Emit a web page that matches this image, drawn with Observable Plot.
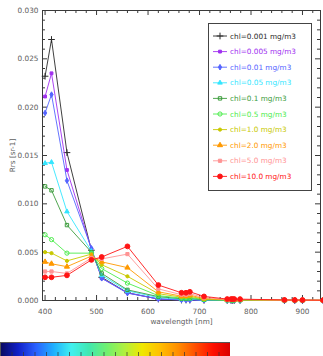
<!DOCTYPE html>
<html><head><meta charset="utf-8">
<script src="https://cdn.jsdelivr.net/npm/d3@7"></script>
<script src="https://cdn.jsdelivr.net/npm/@observablehq/plot@0.6"></script>
<style>
html,body{margin:0;padding:0;background:#fff;overflow:hidden}
#wrap{position:relative;width:323px;height:356px;font-family:"DejaVu Sans",sans-serif}
#main{position:absolute;left:0;top:0}
#cbar{position:absolute;left:0;top:342px}
#leg{position:absolute;left:0;top:0;pointer-events:none}
</style></head><body>
<div id="wrap"><div id="main"></div><div id="cbar"></div><svg id="leg" width="323" height="356"></svg></div>
<script>
// ---- data ----
const wavelengths = [400, 412.5, 442.5, 490, 510, 560, 620, 665, 673.75, 681.25, 708.75, 753.75, 761.25, 764.375, 767.5, 778.75, 865, 885, 900, 940];
const chlLabels = ["chl=0.001 mg/m3","chl=0.005 mg/m3","chl=0.01 mg/m3","chl=0.05 mg/m3","chl=0.1 mg/m3","chl=0.5 mg/m3","chl=1.0 mg/m3","chl=2.0 mg/m3","chl=5.0 mg/m3","chl=10.0 mg/m3"];
const rrs_chl0001 = [0.0232,0.0270,0.0153,0.0052,0.0024,0.0008,0.00015,0.00005,0.00005,0.00004,0.00002,0.00001,0.00001,0.00001,0.00001,0.00001,0,0,0,0];
const rrs_chl0005 = [0.0211,0.0235,0.0135,0.0053,0.0023,0.0008,0.00015,0.00006,0.00006,0.00006,0.00002,0.00001,0.00001,0.00001,0.00001,0.00001,0,0,0,0];
const rrs_chl001  = [0.0194,0.0213,0.0124,0.0054,0.0023,0.00076,0.00016,0.00006,0.00006,0.00006,0.00003,0.00001,0.00001,0.00001,0.00001,0.00001,0,0,0,0];
const rrs_chl005  = [0.0142,0.0143,0.0092,0.0051,0.0026,0.0010,0.0003,0.00012,0.00012,0.00013,0.00004,0.00002,0.00002,0.00002,0.00002,0.00002,0.00001,0.00001,0.00001,0.00001];
const rrs_chl01   = [0.0118,0.0114,0.0078,0.0050,0.0028,0.0011,0.0004,0.00018,0.00018,0.00021,0.00007,0.00003,0.00003,0.00003,0.00003,0.00003,0.00001,0.00001,0.00001,0.00001];
const rrs_chl05   = [0.0068,0.0063,0.0049,0.0049,0.0033,0.0018,0.0005,0.00025,0.00026,0.0003,0.0001,0.00004,0.00004,0.00004,0.00004,0.00004,0.00002,0.00002,0.00002,0.00002];
const rrs_chl1    = [0.0050,0.0049,0.0041,0.0048,0.0037,0.0025,0.0007,0.00035,0.00036,0.00042,0.00015,0.00006,0.00006,0.00006,0.00006,0.00006,0.00002,0.00002,0.00002,0.00002];
const rrs_chl2    = [0.0040,0.0038,0.0035,0.0046,0.0040,0.0034,0.0009,0.00045,0.00046,0.00055,0.0002,0.00008,0.00008,0.00008,0.00008,0.00008,0.00003,0.00003,0.00003,0.00003];
const rrs_chl5    = [0.0030,0.0030,0.0028,0.0044,0.0043,0.0048,0.0012,0.0006,0.0006,0.0007,0.0003,0.0001,0.0001,0.0001,0.0001,0.0001,0.00004,0.00004,0.00004,0.00004];
const rrs_chl10   = [0.0024,0.0024,0.0026,0.0042,0.0045,0.0056,0.0016,0.0008,0.0008,0.0009,0.00042,0.00015,0.00015,0.00015,0.00015,0.00014,0.00006,0.00005,0.00005,0.00003];
const seriesValues = [rrs_chl0001,rrs_chl0005,rrs_chl001,rrs_chl005,rrs_chl01,rrs_chl05,rrs_chl1,rrs_chl2,rrs_chl5,rrs_chl10];
const xTicks = [400,500,600,700,800,900];
const yTicks = [0,0.005,0.010,0.015,0.020,0.025,0.030];

// ---- styles ----
const colors = ["#2a2a2a","#a030f0","#5464ff","#33e6ff","#3c9c3c","#4cec4c","#c8c800","#ff9900","#ff9494","#ff1414"];
const symbols = ["plus","square","diamond","triangle","square","circle","circle","triangle","square","circle"];
const filled = [false,true,true,true,false,false,true,true,true,true];
const radii = [2.3,1.6,1.7,1.7,1.9,2.1,1.6,1.9,1.8,2.4];
const axisColor = "#3a3a3a";

const xMinor = d3.range(420, 935, 20).filter(d => d % 100 !== 0);
const yMinor = d3.range(1, 30).filter(d => d % 5 !== 0).map(d => d / 1000);

const frameW = 323 - 42 - 3, frameH = 300 - 10;
const rows = [];
seriesValues.forEach((vals, i) => vals.forEach((v, j) => rows.push({wl: wavelengths[j], rrs: v, s: i})));

const marks = [
  Plot.tickX(xTicks, {x: d => d, insetTop: frameH - 5, stroke: axisColor}),
  Plot.tickX(xMinor, {x: d => d, insetTop: frameH - 3, stroke: axisColor}),
  Plot.tickX(xTicks, {x: d => d, insetBottom: frameH - 5, stroke: axisColor}),
  Plot.tickX(xMinor, {x: d => d, insetBottom: frameH - 3, stroke: axisColor}),
  Plot.tickY(yTicks, {y: d => d, insetRight: frameW - 5, stroke: axisColor}),
  Plot.tickY(yMinor, {y: d => d, insetRight: frameW - 3, stroke: axisColor}),
  Plot.tickY(yTicks, {y: d => d, insetLeft: frameW - 5, stroke: axisColor}),
  Plot.tickY(yMinor, {y: d => d, insetLeft: frameW - 3, stroke: axisColor}),
  Plot.frame({stroke: axisColor})
];
seriesValues.forEach((vals, i) => {
  const data = rows.filter(r => r.s === i);
  marks.push(Plot.line(data, {x: "wl", y: "rrs", stroke: colors[i], strokeWidth: 0.9}));
  marks.push(Plot.dot(data, {x: "wl", y: "rrs", symbol: symbols[i], r: radii[i],
    fill: filled[i] ? colors[i] : "none", stroke: colors[i], strokeWidth: 1}));
});
marks.push(Plot.axisX({ticks: xTicks, tickSize: 0, tickPadding: 8, tickFormat: d => String(d),
  label: "wavelength [nm]", labelAnchor: "center", labelOffset: 23, labelArrow: "none"}));
marks.push(Plot.axisY({ticks: yTicks, tickSize: 0, tickPadding: 4, tickFormat: d3.format(".3f"),
  label: "Rrs [sr-1]", labelAnchor: "center", labelOffset: 33, labelArrow: "none"}));

const chart = Plot.plot({
  width: 323, height: 336,
  marginLeft: 42, marginRight: 3, marginTop: 10, marginBottom: 36,
  x: {domain: [395, 935]},
  y: {domain: [0, 0.030]},
  style: {fontFamily: "DejaVu Sans", fontSize: "7.3px", color: "#606060", background: "transparent", overflow: "visible"},
  marks
});
document.getElementById("main").appendChild(chart);

// ---- colorbar ----
const jetColors = ["#0a0a60","#1020c8","#2a60ff","#20b0ff","#40f0f0","#40e8b0","#70f070","#b0f040","#f0e800","#ffc000","#ff9000","#ff5000","#ff1000","#d80000"];
const cbarTicks = d3.range(0, 1.0001, 0.05);
const cbar = Plot.plot({
  width: 230, height: 18, margin: 0,
  x: {domain: [0, 1], axis: null},
  y: {domain: [0, 1], axis: null},
  color: {type: "linear", domain: [0, 1], interpolate: d3.piecewise(d3.interpolateRgb, jetColors)},
  style: {background: "transparent"},
  marks: [
    Plot.raster({fill: (x, y) => x, x1: 0, x2: 1, y1: 0, y2: 1, pixelSize: 1}),
    Plot.tickX(cbarTicks, {x: d => d, insetTop: 10, stroke: "#333", strokeOpacity: 0.7}),
    Plot.frame({stroke: "#555"})
  ]
});
document.getElementById("cbar").appendChild(cbar);

// ---- legend ----
const leg = d3.select("#leg");
leg.append("rect").attr("x", 208.5).attr("y", 23.5).attr("width", 103).attr("height", 167)
  .attr("fill", "none").attr("stroke", "#444");
const symMap = {plus: d3.symbolPlus, square: d3.symbolSquare, diamond: d3.symbolDiamond, triangle: d3.symbolTriangle, circle: d3.symbolCircle};
chlLabels.forEach((lab, i) => {
  const y = 36 + i * 15.6;
  const g = leg.append("g");
  g.append("line").attr("x1", 213).attr("x2", 227).attr("y1", y).attr("y2", y).attr("stroke", colors[i]).attr("stroke-width", 0.9);
  g.append("path").attr("transform", `translate(220,${y})`)
    .attr("d", d3.symbol(symMap[symbols[i]], Math.PI * radii[i] * radii[i])())
    .attr("fill", filled[i] ? colors[i] : "none").attr("stroke", colors[i]);
  g.append("text").attr("x", 230).attr("y", y).attr("dy", "0.35em")
    .attr("fill", colors[i]).attr("font-size", "7.3px").attr("font-family", "DejaVu Sans").text(lab);
});
</script>
</body></html>
